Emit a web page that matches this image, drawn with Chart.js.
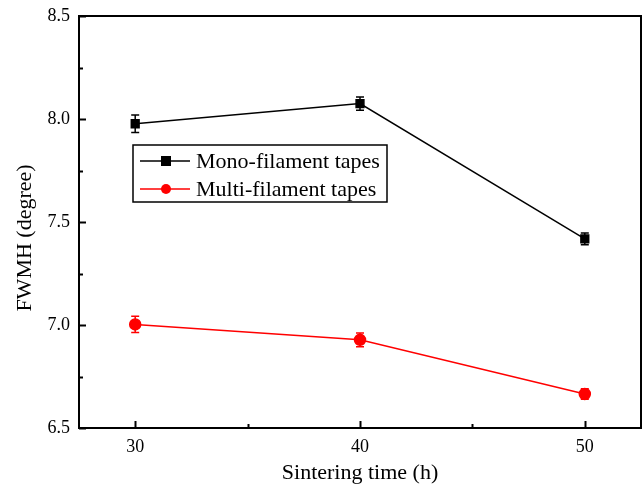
<!DOCTYPE html>
<html>
<head>
<meta charset="utf-8">
<script src="https://cdn.jsdelivr.net/npm/chart.js@4/dist/chart.umd.min.js"></script>
<style>
  html, body { margin: 0; padding: 0; background: #fff; overflow: hidden; }
  canvas { display: block; }
</style>
</head>
<body>
<canvas id="fwmh" width="643" height="486"></canvas>
<script>
// data
const sinterTime = [30, 40, 50];
const monoFwmh = [7.977, 8.075, 7.418];
const monoErr = [0.042, 0.032, 0.028];
const multiFwmh = [7.003, 6.928, 6.665];
const multiErr = [0.04, 0.033, 0.025];
const xTickValues = [30, 40, 50];
const yTickValues = [6.5, 7.0, 7.5, 8.0, 8.5];
const yTitle = "FWMH (degree)";

const serif = "'Liberation Serif', 'Times New Roman', serif";

// inward ticks + closed frame
const frameTicks = {
  id: "frameTicks",
  afterDraw(chart) {
    const { ctx, chartArea: a, scales } = chart;
    ctx.save();
    ctx.strokeStyle = "#000";
    ctx.lineWidth = 2;
    ctx.strokeRect(a.left, a.top, a.right - a.left, a.bottom - a.top);

    const x = scales.x, y = scales.y;
    const drawX = (v, len) => {
      const px = Math.round(x.getPixelForValue(v)) + 0.5;
      ctx.beginPath();
      ctx.moveTo(px, a.bottom);
      ctx.lineTo(px, a.bottom - len);
      ctx.stroke();
    };
    const drawY = (v, len) => {
      const py = Math.round(y.getPixelForValue(v)) + 0.5;
      ctx.beginPath();
      ctx.moveTo(a.left, py);
      ctx.lineTo(a.left + len, py);
      ctx.stroke();
    };
    xTickValues.forEach((v, i) => {
      drawX(v, 7);
      if (i < xTickValues.length - 1) drawX((v + xTickValues[i + 1]) / 2, 4);
    });
    yTickValues.forEach((v, i) => {
      drawY(v, 7);
      if (i < yTickValues.length - 1) drawY((v + yTickValues[i + 1]) / 2, 4);
    });

    // y title sits a bit below the middle in the original
    ctx.translate(a.left - 54, (a.top + a.bottom) / 2 + 16);
    ctx.rotate(-Math.PI / 2);
    ctx.font = "22px " + serif;
    ctx.fillStyle = "#000";
    ctx.textAlign = "center";
    ctx.textBaseline = "middle";
    ctx.fillText(yTitle, 0, 0);
    ctx.restore();
  },
};

// vertical error bars with caps
const errorBars = {
  id: "errorBars",
  afterDatasetsDraw(chart) {
    const { ctx, scales } = chart;
    ctx.save();
    chart.data.datasets.forEach((ds) => {
      ctx.strokeStyle = ds.borderColor;
      ctx.lineWidth = 1.5;
      ds.data.forEach((pt, i) => {
        const e = ds.errors[i];
        const px = scales.x.getPixelForValue(pt.x);
        const top = scales.y.getPixelForValue(pt.y + e);
        const bot = scales.y.getPixelForValue(pt.y - e);
        ctx.beginPath();
        ctx.moveTo(px, top);
        ctx.lineTo(px, bot);
        ctx.moveTo(px - 4, top);
        ctx.lineTo(px + 4, top);
        ctx.moveTo(px - 4, bot);
        ctx.lineTo(px + 4, bot);
        ctx.stroke();
      });
    });
    ctx.restore();
  },
};

// boxed legend inside the plot
const boxLegend = {
  id: "boxLegend",
  afterDraw(chart) {
    const { ctx, chartArea: a } = chart;
    const left = a.left + 54, top = a.top + 129;
    const w = 254, h = 57;
    ctx.save();
    ctx.fillStyle = "#fff";
    ctx.fillRect(left, top, w, h);
    ctx.strokeStyle = "#000";
    ctx.lineWidth = 1.5;
    ctx.strokeRect(left, top, w, h);
    ctx.font = "22px " + serif;
    ctx.textBaseline = "middle";
    chart.data.datasets.forEach((ds, i) => {
      const cy = top + 16 + i * 28;
      ctx.strokeStyle = ds.borderColor;
      ctx.lineWidth = 1.5;
      ctx.beginPath();
      ctx.moveTo(left + 7, cy);
      ctx.lineTo(left + 57, cy);
      ctx.stroke();
      ctx.fillStyle = ds.borderColor;
      if (ds.pointStyle === "rect") {
        ctx.fillRect(left + 28, cy - 5, 10, 10);
      } else {
        ctx.beginPath();
        ctx.arc(left + 33, cy, 5, 0, Math.PI * 2);
        ctx.fill();
      }
      ctx.fillStyle = "#000";
      ctx.fillText(ds.label, left + 63, cy + 1);
    });
    ctx.restore();
  },
};

const toPoints = (ys) => sinterTime.map((t, i) => ({ x: t, y: ys[i] }));

new Chart(document.getElementById("fwmh"), {
  type: "line",
  data: {
    datasets: [
      {
        label: "Mono-filament tapes",
        data: toPoints(monoFwmh),
        errors: monoErr,
        borderColor: "#000000",
        backgroundColor: "#000000",
        borderWidth: 1.5,
        pointStyle: "rect",
        pointRadius: 5.5,
        pointHoverRadius: 5.5,
      },
      {
        label: "Multi-filament tapes",
        data: toPoints(multiFwmh),
        errors: multiErr,
        borderColor: "#ff0000",
        backgroundColor: "#ff0000",
        borderWidth: 1.5,
        pointStyle: "circle",
        pointRadius: 5.5,
        pointHoverRadius: 5.5,
      },
    ],
  },
  options: {
    responsive: false,
    animation: false,
    layout: { autoPadding: false, padding: { top: 16, right: 2, left: 0, bottom: 0 } },
    plugins: {
      legend: { display: false },
      tooltip: { enabled: false },
    },
    scales: {
      x: {
        type: "linear",
        min: 27.5,
        max: 52.5,
        afterBuildTicks: (s) => { s.ticks = xTickValues.map((v) => ({ value: v })); },
        afterFit: (s) => { s.height = 58; s.paddingLeft = 0; s.paddingRight = 0; },
        grid: { display: false, drawTicks: false },
        border: { display: false },
        ticks: {
          color: "#000",
          padding: 8,
          font: { family: serif, size: 18 },
          callback: (v) => String(v),
        },
        title: {
          display: true,
          text: "Sintering time (h)",
          color: "#000",
          font: { family: serif, size: 22 },
          padding: { top: 0, bottom: 0 },
        },
      },
      y: {
        min: 6.5,
        max: 8.5,
        afterBuildTicks: (s) => { s.ticks = yTickValues.map((v) => ({ value: v })); },
        afterFit: (s) => { s.width = 79; s.paddingTop = 0; s.paddingBottom = 0; },
        grid: { display: false, drawTicks: false },
        border: { display: false },
        ticks: {
          color: "#000",
          padding: 9,
          font: { family: serif, size: 18 },
          callback: (v) => v.toFixed(1),
        },
      },
    },
  },
  plugins: [frameTicks, errorBars, boxLegend],
});
</script>
</body>
</html>
